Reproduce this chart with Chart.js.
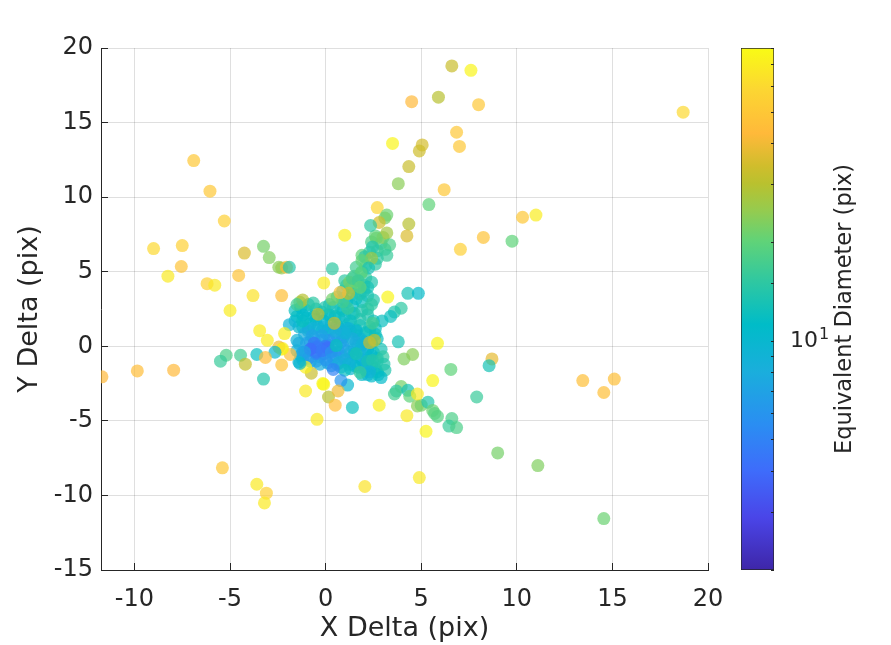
<!DOCTYPE html>
<html>
<head>
<meta charset="utf-8">
<title>Delta scatter</title>
<script src="https://cdn.jsdelivr.net/npm/chart.js@4/dist/chart.umd.min.js"></script>
<style>
  body { margin: 0; background: #fff; }
  canvas { position: absolute; top: 0; }
  #scatter { left: 0; }
  #colorbar { left: 720px; }
</style>
</head>
<body>
<canvas id="scatter" width="730" height="645"></canvas>
<canvas id="colorbar" width="171" height="645"></canvas>
<script>
// Axis ticks
const xTicks = [-10, -5, 0, 5, 10, 15, 20];
const yTicks = [-15, -10, -5, 0, 5, 10, 15, 20];

// Values, grouped by region in draw order
const bodyX = [0.5,0.8,1.1,1.4,1.7,1.5,1.9,1.2,0.7,1.8,2.2,1.0,1.4,2.0,1.6,0.3,-0.2,0.2,0.9,1.3,-1.2,-1.5,-0.8,-1.0,-0.5,0.1,2.3,2.6,1.7,0.9];
const bodyY = [2.0,2.5,3.0,3.5,4.0,2.2,3.0,1.5,1.2,1.8,2.5,2.0,2.7,3.7,3.2,1.5,1.0,2.8,3.7,1.0,1.3,2.0,1.5,2.4,1.8,2.1,1.0,0.8,0.7,0.6];
const bodyD = [11,11,10,12,13,12,12,13,10,14,15,9,11,14,12,11,9,13,12,13,11,11,10,11,10,10,13,12,12,11];

const ridgeFillX = [1.6,2.1,2.6,1.9,2.3,2.7,2.4,2.9,3.1,2.6,3.0,0.9,1.3,1.8,2.2,2.5,0.6,1.1,1.6,2.0,0.4,0.9,1.4,1.9,2.2,2.5,0.2,0.7,1.3,1.8,2.3,1.0,1.5,2.1,2.4];
const ridgeFillY = [5.3,5.4,5.5,6.1,6.3,6.4,7.0,6.9,6.5,7.4,7.3,3.2,3.9,3.5,3.4,3.1,3.3,4.1,4.3,4.1,2.6,2.4,2.2,2.4,2.1,1.7,2.1,1.9,1.7,1.4,1.3,4.4,4.7,4.6,4.3];
const ridgeFillD = [17,18,15,20,16,17,18,17,16,20,24,14,15,14,13,14,17,18,20,15,13,12,13,14,14,13,12,12,12,13,13,15,17,16,14];

const leftFillX = [-1.6,-1.3,-0.9,-0.5,-0.2,-1.6,-1.0,-0.6,-0.1,-1.4,-0.9,-0.4,0.1,0.6,1.1,1.6,2.1,2.6,2.0,2.4,2.7,2.2,2.5,2.9,1.7,2.7];
const leftFillY = [2.4,2.6,2.8,2.5,2.3,1.7,1.9,2.0,1.7,1.3,1.2,1.3,1.1,1.4,1.2,1.1,0.9,1.2,0.3,0.2,0.5,-0.2,-0.4,-0.2,0.1,-0.8];
const leftFillD = [12,11,13,13,12,11,11,11,11,10,10,10,11,11,11,12,12,12,11,11,12,10,10,13,10,12];

const lowFillX = [1.3,1.7,2.1,2.4,2.7,3.1,1.9,2.4,0.8,0.3,-0.3,-0.8,-1.2,-1.5,-1.5];
const lowFillY = [-1.5,-1.4,-1.6,-1.3,-1.7,-1.6,-1.9,-2.0,-1.4,-1.3,-1.2,-1.0,-0.9,-0.3,0.4];
const lowFillD = [10,10,11,11,12,14,11,11,8,8,8,8,9,9,9];

const coreX = [-1.4,-1.1,-0.9,-0.6,-0.3,0.0,0.3,0.6,0.9,1.2,1.5,1.8,2.1,-1.2,-0.8,-0.5,-0.2,0.1,0.4,0.7,1.0,1.3,1.6,1.9,-0.9,-0.6,-0.1,0.3,0.8,1.2,1.6,-0.5,0.1,0.6,1.1,-0.4,0.9,0.5,-0.7,0.1];
const coreY = [0.2,0.8,-0.3,0.5,-0.7,0.9,-0.3,0.7,-0.7,0.4,-0.2,0.5,-0.5,-0.4,0.3,-1.0,0.4,-1.1,0.5,-0.4,0.8,-1.0,0.3,-0.9,1.0,1.2,1.3,1.2,1.1,1.2,1.0,-0.5,0.1,-1.2,-0.3,0.0,0.0,-0.6,-0.1,-0.2];
const coreD = [8,8,6,7,7,8,6,7,6,8,9,9,9,7,7,7,6,7,7,6,8,8,8,9,8,9,9,9,9,9,10,5,6,7,7,4.5,7,6,4,4];

const core2X = [-1.3,-1.0,-0.7,-0.4,-0.1,0.2,0.4,0.8,1.1,1.4,1.6,1.9,2.1,1.0,0.5,-0.2,-0.9,-0.5,0.0,0.7,1.3,-0.6,-0.8,0.0,0.1,-0.2,0.3,0.6,-1.1,1.8];
const core2Y = [-0.6,0.2,0.7,0.0,-0.5,0.4,-0.8,0.3,-0.9,0.5,-0.7,0.1,-1.1,0.9,1.0,0.7,-0.8,-0.4,-0.9,-1.1,-0.4,0.2,-0.2,0.0,-0.1,-0.3,-0.4,0.1,-0.4,-0.3];
const core2D = [8,7,7,5,5,6,7,7,8,8,8,9,9,9,8,7,6,4.5,6,8,8,4.5,4,4.5,4,4.5,6,7,7,9];

const armX = [2.0,2.6,2.4,1.5,1.9,2.7,1.5,1.0,2.2,2.75,1.2,2.2,3.0,0.55,1.6,1.15,1.9,0.9];
const armY = [-1.3,-1.5,-0.6,-0.5,-0.9,-1.0,-1.3,-0.9,-1.9,-1.9,-1.2,-1.0,-0.7,0.05,-0.5,2.55,5.0,3.0];
const armD = [9,12,11,10,9,14,11,8,10,12,9,13,15,12,13,16,19,17];

const ridgeX = [3.2,2.65,3.35,2.45,3.2,2.7,2.05,2.4,1.9,2.25,1.85,1.25,1.7,1.4,2.2,0.35,4.3,4.85];
const ridgeY = [7.6,7.25,6.8,6.65,6.1,5.9,6.0,5.9,5.75,5.25,4.9,4.3,4.4,4.55,3.95,5.2,3.55,3.55];
const ridgeD = [27,21,18,14,16,15,15,26,20,13,19,22,16,17,13,15,13,11];

const innerX = [-2.3,-1.35,-1.2,-0.65,-0.05,0.35,1.2,-0.1,0.75,1.8,2.4,3.25,3.95,3.6,3.4,2.95,2.45,3.8,2.55,2.3,4.1,4.55,3.05,2.45,2.9,2.3,1.8,1.0,1.15,0.8,0.4,-0.15,-0.1,-0.75,-1.05,-1.4,-2.3,-1.85,-2.25,-1.9,-2.15,-1.2,-0.4,0.45,-1.2,-1.5];
const innerY = [3.4,2.95,3.1,2.9,2.6,3.15,3.55,4.25,3.6,3.95,2.8,3.3,2.55,2.3,2.0,1.7,1.55,0.3,0.4,0.25,-0.85,-0.55,-1.2,-0.95,-2.1,-1.7,-1.75,-1.6,-2.6,-2.3,-1.55,-2.5,-2.55,-1.8,-1.4,-1.05,-1.25,-0.55,-0.15,1.45,0.85,1.7,2.15,1.55,2.1,2.8];
const innerD = [46,22,30,15,14,22,32,70,45,20,15,75,15,14,12,12,17,13,31,33,23,24,14,14,11,9,16,12,10,6,5,78,75,33,72,9,48,45,70,9,70,12,32,33,11,17];

const upperX = [6.6,7.6,4.5,5.9,8.0,18.7,6.85,7.0,3.5,5.05,4.9,4.35,3.8,6.2,5.4,2.7,3.2,3.1,2.8,2.35,4.35,4.25,10.3,11,8.25,9.75,7.05,1];
const upperY = [18.8,18.5,16.4,16.7,16.2,15.7,14.35,13.4,13.6,13.5,13.1,12.05,10.9,10.5,9.5,9.3,8.8,8.6,8.3,8.1,8.2,7.4,8.65,8.8,7.3,7.05,6.5,7.45];
const upperD = [33,75,43,30,50,60,50,50,75,35,34,33,24,50,20,58,21,22,34,15,30,36,50,70,48,20,55,72];

const leftX = [-6.9,-6.05,-5.3,-9,-7.5,-7.55,-8.25,-6.2,-5.8,-4.55,-4.25,-3.25,-2.95,-2.45,-2.3,-2.05,-1.9,-3.8,-5,-3.45,-3.05,-2.45,-2.3,-3.6,-2.65,-3.15,-4.45,-5.2,-5.5,-4.2,-3.25,-7.95,-9.85,-11.7,-1.35];
const leftY = [12.45,10.4,8.4,6.55,6.75,5.35,4.7,4.2,4.1,4.75,6.25,6.7,5.95,5.3,5.25,5.3,5.3,3.4,2.4,1.05,0.4,-0.05,-0.2,-0.55,-0.4,-0.75,-0.6,-0.6,-1.0,-1.2,-2.2,-1.6,-1.65,-2.05,-1.15];
const leftD = [50,50,55,60,55,48,68,55,68,48,36,22,23,24,25,42,14,65,70,70,70,40,72,12,10,45,17,18,16,32,14,43,45,43,10];

const lowerX = [5.85,8.7,8.55,6.55,5.6,7.9,3.95,3.7,3.6,4.3,4.4,4.8,5,5.35,4.8,2.8,4.25,5.6,5.7,5.85,6.6,6.45,6.85,5.25,9,11.1,4.9,14.55,13.45,14.55,15.1];
const lowerY = [0.2,-0.85,-1.3,-1.55,-2.3,-3.4,-2.7,-3.0,-3.2,-2.95,-3.35,-4.0,-3.95,-3.75,-3.2,-3.95,-4.65,-4.3,-4.5,-4.7,-4.85,-5.35,-5.45,-5.7,-7.15,-8,-8.8,-11.55,-2.3,-3.1,-2.2];
const lowerD = [75,38,13,20,75,16,22,15,17,13,20,24,22,14,68,72,68,21,19,19,18,16,18,75,22,23,68,21,46,46,46];

const bottomX = [-1.05,0.15,0.65,0.5,1.4,-0.45,-5.4,-3.6,-3.1,-3.2,2.05];
const bottomY = [-3.0,-3.4,-3.0,-3.95,-4.1,-4.9,-8.15,-9.25,-9.85,-10.5,-9.4];
const bottomD = [68,30,40,45,12,68,50,68,55,68,65];

const xDelta = [...bodyX, ...ridgeFillX, ...leftFillX, ...lowFillX, ...coreX, ...core2X, ...armX, ...ridgeX, ...innerX, ...upperX, ...leftX, ...lowerX, ...bottomX];
const yDelta = [...bodyY, ...ridgeFillY, ...leftFillY, ...lowFillY, ...coreY, ...core2Y, ...armY, ...ridgeY, ...innerY, ...upperY, ...leftY, ...lowerY, ...bottomY];
const eqDiameter = [...bodyD, ...ridgeFillD, ...leftFillD, ...lowFillD, ...coreD, ...core2D, ...armD, ...ridgeD, ...innerD, ...upperD, ...leftD, ...lowerD, ...bottomD];

// Colour range of the log colorbar
const cMin = 2;
const cMax = 78.5;
const inkColor = '#262626';
const fontFamily = '"DejaVu Sans", sans-serif';

// Colormap stops
const cmapStops = [
    [0.00, [62, 38, 168]],
    [0.10, [74, 69, 232]],
    [0.19, [62, 108, 251]],
    [0.28, [42, 142, 242]],
    [0.38, [26, 174, 220]],
    [0.47, [0, 188, 200]],
    [0.555, [48, 200, 160]],
    [0.63, [96, 211, 120]],
    [0.69, [150, 203, 78]],
    [0.74, [185, 193, 47]],
    [0.774, [208, 189, 44]],
    [0.836, [255, 185, 58]],
    [0.92, [252, 214, 50]],
    [1.00, [249, 251, 21]]
];

function colorAt(t) {
    for (let i = 1; i < cmapStops.length; i++) {
        if (t <= cmapStops[i][0]) {
            const a = cmapStops[i - 1], b = cmapStops[i];
            const f = (t - a[0]) / (b[0] - a[0]);
            return a[1].map((v, k) => Math.round(v + (b[1][k] - v) * f));
        }
    }
    return cmapStops[cmapStops.length - 1][1];
}

function diameterColor(d) {
    const t = (Math.log(d) - Math.log(cMin)) / (Math.log(cMax) - Math.log(cMin));
    const c = colorAt(Math.min(1, Math.max(0, t)));
    return 'rgba(' + c[0] + ',' + c[1] + ',' + c[2] + ',0.7)';
}

// Scatter plot
new Chart(document.getElementById('scatter'), {
    type: 'scatter',
    data: {
        datasets: [{
            data: xDelta.map((x, i) => ({ x: x, y: yDelta[i] })),
            backgroundColor: eqDiameter.map(diameterColor),
            pointRadius: 6.5,
            pointBorderWidth: 0,
            pointHoverRadius: 6.5
        }]
    },
    options: {
        responsive: false,
        animation: false,
        layout: { padding: { top: 48, right: 22, left: 0, bottom: 0 } },
        plugins: { legend: { display: false }, tooltip: { enabled: false } },
        scales: {
            x: {
                type: 'linear',
                min: -11.75,
                max: 20,
                afterBuildTicks: function(scale) { scale.ticks = xTicks.map(v => ({ value: v })); },
                afterFit: function(scale) {
                    scale.height = 75;
                    scale.paddingLeft = 0;
                    scale.paddingRight = 0;
                },
                grid: { color: 'rgba(38,38,38,0.15)', tickColor: inkColor, tickLength: -7 },
                border: { color: inkColor },
                ticks: { color: inkColor, padding: 22, maxRotation: 0, font: { family: fontFamily, size: 24 } },
                title: { display: true, text: 'X Delta (pix)', color: inkColor, padding: { top: 40, bottom: 0 }, font: { family: fontFamily, size: 27 } }
            },
            y: {
                type: 'linear',
                min: -15,
                max: 20,
                afterBuildTicks: function(scale) { scale.ticks = yTicks.map(v => ({ value: v })); },
                afterFit: function(scale) {
                    scale.width = 101;
                    scale.paddingTop = 0;
                    scale.paddingBottom = 0;
                },
                grid: { color: 'rgba(38,38,38,0.15)', tickColor: inkColor, tickLength: -7 },
                border: { color: inkColor },
                ticks: { color: inkColor, padding: 15, font: { family: fontFamily, size: 24 } },
                title: { display: true, text: 'Y Delta (pix)', color: inkColor, padding: { top: 14, bottom: 0 }, font: { family: fontFamily, size: 27 } }
            }
        }
    }
});

// Colorbar labels that Chart.js cannot place itself
const colorbarText = {
    id: 'colorbarText',
    afterDraw: function(chart) {
        const ctx = chart.ctx;
        const y10 = chart.scales.y.getPixelForValue(10);
        ctx.save();
        ctx.fillStyle = inkColor;
        ctx.font = '16px ' + fontFamily;
        ctx.textAlign = 'left';
        ctx.textBaseline = 'middle';
        ctx.fillText('1', 99, y10 - 6);
        ctx.translate(125, chart.chartArea.top + chart.chartArea.height / 2);
        ctx.rotate(-Math.PI / 2);
        ctx.font = '22.5px ' + fontFamily;
        ctx.textAlign = 'center';
        ctx.fillText('Equivalent Diameter (pix)', 0, 0);
        ctx.restore();
    }
};

function colorbarFill(context) {
    const area = context.chart.chartArea;
    if (!area) return 'transparent';
    const g = context.chart.ctx.createLinearGradient(0, area.bottom, 0, area.top);
    cmapStops.forEach(s => g.addColorStop(s[0], 'rgb(' + s[1].join(',') + ')'));
    return g;
}

// Colorbar, a single floating bar on a log axis
new Chart(document.getElementById('colorbar'), {
    type: 'bar',
    data: {
        labels: ['Equivalent Diameter'],
        datasets: [{
            data: [[cMin, cMax]],
            backgroundColor: colorbarFill,
            borderColor: inkColor,
            borderWidth: 1,
            borderSkipped: false,
            barPercentage: 1,
            categoryPercentage: 1
        }]
    },
    options: {
        responsive: false,
        animation: false,
        layout: { padding: { top: 48, left: 21, bottom: 75, right: 0 } },
        plugins: { legend: { display: false }, tooltip: { enabled: false } },
        scales: {
            x: { display: false },
            y: {
                type: 'logarithmic',
                position: 'right',
                min: cMin,
                max: cMax,
                afterFit: function(scale) {
                    scale.width = 117;
                    scale.paddingTop = 0;
                    scale.paddingBottom = 0;
                },
                grid: { drawOnChartArea: false, z: 1, tickColor: inkColor, tickLength: -3 },
                border: { display: false },
                ticks: {
                    autoSkip: false,
                    color: inkColor,
                    padding: 19,
                    font: { family: fontFamily, size: 22 },
                    callback: function(value) { return value === 10 ? '10' : ''; }
                }
            }
        }
    },
    plugins: [colorbarText]
});
</script>
</body>
</html>
